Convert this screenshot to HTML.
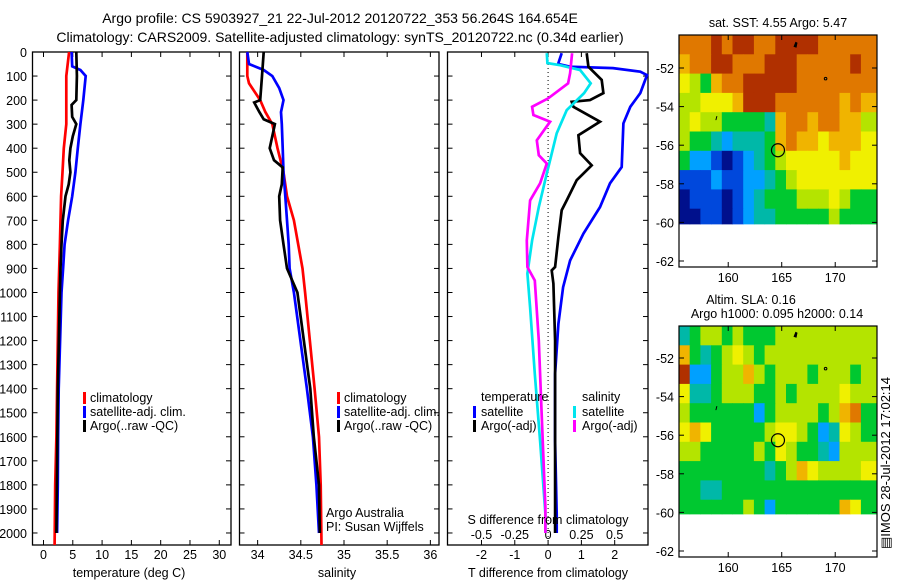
<!DOCTYPE html>
<html><head><meta charset="utf-8">
<style>
html,body{margin:0;padding:0;background:#fff;}
svg{display:block;font-family:"Liberation Sans",Arial,sans-serif;}
text{fill:#000;}
</style></head>
<body>
<svg id="fig" width="900" height="580" viewBox="0 0 900 580" xmlns="http://www.w3.org/2000/svg">
<text x="340" y="23" font-size="14" text-anchor="middle">Argo profile: CS 5903927_21 22-Jul-2012 20120722_353 56.264S 164.654E</text>
<text x="340" y="42" font-size="14" text-anchor="middle">Climatology: CARS2009. Satellite-adjusted climatology: synTS_20120722.nc (0.34d earlier)</text>
<g id="g"></g>
</svg>
<script>
// ---- profile data (depth in m) ----
const tClimDepth=[0,100,200,300,400,500,600,700,800,1000,1400,1600,1800,2050];
const tClimVal=[4.37,3.9,3.9,3.9,3.46,3.24,3.0,2.9,2.8,2.56,2.33,2.2,2.0,1.9];
const tSatDepth=[0,60,75,100,200,300,400,500,600,700,800,900,1000,1400,1600,1800,2000];
const tSatVal=[4.8,4.9,6.3,7.2,6.8,6.3,5.85,5.45,4.9,4.2,3.6,3.35,3.07,2.6,2.5,2.45,2.33];
const tArgoDepth=[0,100,200,220,270,300,350,400,450,500,550,600,700,800,900,1000,1400,1700,2000];
const tArgoVal=[5.6,5.7,5.6,4.8,4.9,5.6,5.0,4.6,4.4,4.6,4.3,3.75,3.3,3.07,2.9,2.8,2.45,2.33,2.2];

const sClimDepth=[0,100,130,200,250,300,400,500,600,700,800,900,1000,1400,1600,1800,2050];
const sClimVal=[33.88,33.88,33.9,34.03,34.09,34.17,34.23,34.3,34.34,34.42,34.47,34.52,34.55,34.66,34.71,34.73,34.74];
const sSatDepth=[0,50,75,100,150,200,250,300,400,500,600,700,800,900,1000,1400,1600,1800,2000];
const sSatVal=[33.88,33.9,34.07,34.17,34.25,34.3,34.27,34.28,34.29,34.3,34.32,34.34,34.36,34.37,34.42,34.57,34.64,34.68,34.71];
const sArgoDepth=[0,100,200,210,250,280,300,400,450,480,550,600,700,800,900,1000,1400,1600,1800,2000];
const sArgoVal=[34.07,34.05,34.03,33.96,34.02,34.07,34.2,34.14,34.19,34.29,34.28,34.25,34.26,34.3,34.34,34.46,34.61,34.65,34.71,34.72];

const dTSatDepth=[5,50,61,67,82,96,171,228,297,478,546,645,755,867,978,1130,1338,1617,1921,2000];
const dTSatVal=[0.41,0.3,0.66,1.95,2.77,2.97,2.77,2.47,2.26,2.21,1.86,1.56,1.06,0.66,0.45,0.31,0.21,0.21,0.26,0.26];
const dTArgoDepth=[5,61,116,171,200,207,228,290,346,421,471,533,617,658,769,894,908,963,1200,1478,1867,2000];
const dTArgoVal=[1.16,1.21,1.61,1.66,1.26,0.71,0.76,1.56,0.91,0.96,1.31,0.86,0.56,0.41,0.31,0.21,0.11,0.16,0.21,0.21,0.21,0.21];
const dSSatDepth=[5,46,55,75,130,171,242,338,450,505,645,784,921,1062,1338,1617,1921,2000];
const dSSatVal=[-0.01,-0.005,0.09,0.24,0.32,0.27,0.14,0.065,0.015,-0.01,-0.07,-0.12,-0.155,-0.135,-0.1,-0.06,-0.02,-0.02];
const dSArgoDepth=[5,88,130,193,228,262,290,367,429,464,546,617,784,894,950,1200,1478,1895,2000];
const dSArgoVal=[0.18,0.165,0.15,0.0,-0.12,-0.11,0.015,-0.085,-0.07,-0.01,-0.06,-0.135,-0.16,-0.155,-0.1,-0.07,-0.05,-0.02,-0.02];

const depthTicks=[0,100,200,300,400,500,600,700,800,900,1000,1100,1200,1300,1400,1500,1600,1700,1800,1900,2000];
const tTicks=[0,5,10,15,20,25,30];
const sTicks=[34,34.5,35,35.5,36];
const sTickLabels=["34","34.5","35","35.5","36"];
const dTTicks=[-2,-1,0,1,2];
const dSTicks=[-0.5,-0.25,0,0.25,0.5];
const dSTickLabels=["-0.5","-0.25","0","0.25","0.5"];

// ---- map data (levels 0..9), rows from north (-50.3) southward, cols from 155.4E ----
const sstGrid=[
[8,8,8,9,8,9,9,8,8,9,9,9,9,8,8,8,8,8],
[7,8,8,9,9,8,8,8,9,9,9,8,8,8,8,8,9,8],
[6,5,4,7,8,8,9,9,9,9,9,8,8,8,8,8,8,8],
[5,5,6,6,6,7,9,9,9,8,8,8,8,8,8,7,8,7],
[5,6,5,5,4,4,4,4,3,7,8,8,7,8,8,7,7,5],
[5,4,4,3,2,3,3,3,4,7,8,7,7,6,7,7,7,6],
[4,2,2,1,0,1,2,3,4,5,6,6,6,6,6,7,6,6],
[1,1,1,2,1,1,2,2,3,4,5,6,6,6,6,6,6,6],
[0,1,1,1,0,1,2,3,4,4,4,5,5,5,6,5,4,4],
[0,0,1,1,0,1,2,3,3,4,4,4,4,4,5,4,4,4]];
const slaGrid=[
[3,4,5,5,4,5,4,4,4,5,5,5,5,5,5,5,5,5],
[7,4,3,4,5,6,5,4,5,5,5,5,5,5,5,5,5,5],
[9,2,2,4,5,5,7,5,4,5,5,5,4,5,5,5,4,5],
[6,3,3,4,5,5,5,4,4,5,4,5,5,5,5,6,5,5],
[5,4,4,4,4,4,4,2,4,5,5,5,5,4,5,7,8,4],
[6,7,6,4,4,4,4,4,5,6,6,5,4,2,3,6,5,4],
[5,5,4,4,4,4,4,5,4,6,5,4,4,3,2,5,5,5],
[4,4,4,4,4,4,4,4,3,4,5,7,6,5,5,5,5,6],
[4,4,3,3,4,4,4,4,4,4,4,4,4,4,4,4,4,4],
[4,4,4,4,4,4,5,4,2,4,4,4,4,4,4,7,6,4]];
const lonTicks=[160,165,170];
const latTicks=[-52,-54,-56,-58,-60,-62];
const argoLon=164.65, argoLat=-56.26;

const NS="http://www.w3.org/2000/svg";
const G=document.getElementById('g');
function mk(tag,attrs,parent){const e=document.createElementNS(NS,tag);for(const k in attrs)e.setAttribute(k,attrs[k]);(parent||G).appendChild(e);return e;}

const yTop=52,yBot=545;
const yD=d=>yTop+d*(yBot-yTop)/2050;

function panel(x0,x1,xmin,xmax,name){
  const xs=v=>x0+(v-xmin)*(x1-x0)/(xmax-xmin);
  const g=mk('g',{});
  
  
  const r=mk('rect',{x:x0,y:yTop,width:x1-x0,height:yBot-yTop,fill:'none',stroke:'#000','stroke-width':1.3},g);
  
  
  depthTicks.forEach(d=>{
    const y=yD(d);
    mk('line',{x1:x0,x2:x0+5,y1:y,y2:y,stroke:'#000'},g);
    mk('line',{x1:x1-5,x2:x1,y1:y,y2:y,stroke:'#000'},g);
  });
  return {xs,g};
}
function line(p,xs,dArr,vArr,color,w,name){
  const pts=dArr.map((d,i)=>xs(vArr[i]).toFixed(1)+','+yD(d).toFixed(1)).join(' ');
  const e=mk('polyline',{points:pts,fill:'none',stroke:color,'stroke-width':w,'stroke-linejoin':'miter'},p.g);
  
  
}
function txt(s,x,y,size,anchor,name,parent){
  const e=mk('text',{x:x,y:y,'font-size':size,'text-anchor':anchor||'start'},parent);
  e.textContent=s;
  
  
  return e;
}
function xTicks(p,x0,ticks,labels,ly,name){
  ticks.forEach((t,i)=>{
    const x=p.xs(t);
    mk('line',{x1:x,x2:x,y1:yBot,y2:yBot-5,stroke:'#000'},p.g);
    mk('line',{x1:x,x2:x,y1:yTop,y2:yTop+5,stroke:'#000'},p.g);
    if(labels) txt(labels[i],x,ly,12.5,'middle',name+'-tick-label',p.g);
  });
}
function legendBar(x,y,color,name){
  const e=mk('rect',{x:x,y:y-10,width:3,height:12,fill:color});
  
  
}
const LW=2.7;

// Panel 1 temperature
const p1=panel(32.5,231,-1.875,32,'temperature-panel');
depthTicks.forEach(d=>{txt(String(d),27,yD(d)+5,12.5,'end','depth-tick-label',p1.g);});
xTicks(p1,0,tTicks,tTicks.map(String),559,'temperature');
line(p1,p1.xs,tClimDepth,tClimVal,'#ff0000',LW,'temperature-climatology-line');
line(p1,p1.xs,tSatDepth,tSatVal,'#0000ff',LW,'temperature-satellite-line');
line(p1,p1.xs,tArgoDepth,tArgoVal,'#000000',LW,'temperature-argo-line');
txt('temperature (deg C)',129,577,12.5,'middle','temperature-x-axis-title');
legendBar(83,402,'#ff0000','legend-climatology-marker');txt('climatology',90,402,12.5,'start','legend-climatology');
legendBar(83,416,'#0000ff','legend-satellite-marker');txt('satellite-adj. clim.',90,416,12.5,'start','legend-satellite');
legendBar(83,430,'#000','legend-argo-marker');txt('Argo(..raw -QC)',90,430,12.5,'start','legend-argo');

// Panel 2 salinity
const p2=panel(239.5,439,33.79,36.1,'salinity-panel');
xTicks(p2,0,sTicks,sTickLabels,559,'salinity');
line(p2,p2.xs,sClimDepth,sClimVal,'#ff0000',LW,'salinity-climatology-line');
line(p2,p2.xs,sSatDepth,sSatVal,'#0000ff',LW,'salinity-satellite-line');
line(p2,p2.xs,sArgoDepth,sArgoVal,'#000000',LW,'salinity-argo-line');
txt('salinity',337,577,12.5,'middle','salinity-x-axis-title');
legendBar(337,402,'#ff0000','legend2-climatology-marker');txt('climatology',344,402,12.5,'start','legend2-climatology');
legendBar(337,416,'#0000ff','legend2-satellite-marker');txt('satellite-adj. clim.',344,416,12.5,'start','legend2-satellite');
legendBar(337,430,'#000','legend2-argo-marker');txt('Argo(..raw -QC)',344,430,12.5,'start','legend2-argo');
txt('Argo Australia',326,517,12.5,'start','credit-argo-australia');
txt('PI: Susan Wijffels',326,531,12.5,'start','credit-pi');

// Panel 3 differences
const p3=panel(447.5,648,-3.02,3.0,'difference-panel');
const sx=v=>p3.xs(v*4);
const zl=mk('line',{x1:p3.xs(0),x2:p3.xs(0),y1:yTop,y2:yBot,stroke:'#000','stroke-dasharray':'1,3'},p3.g);


xTicks(p3,0,dTTicks,dTTicks.map(String),559,'t-difference');
dSTicks.forEach((t,i)=>txt(dSTickLabels[i],sx(t),539,12.5,'middle','s-difference-tick-label',p3.g));
txt('S difference from climatology',548,524,12.5,'middle','s-difference-axis-title');
txt('T difference from climatology',548,577,12.5,'middle','t-difference-x-axis-title');
line(p3,p3.xs,dTSatDepth,dTSatVal,'#0000ff',LW,'t-diff-satellite-line');
line(p3,p3.xs,dTArgoDepth,dTArgoVal,'#000000',LW,'t-diff-argo-line');
line(p3,sx,dSSatDepth,dSSatVal,'#00e5ee',LW,'s-diff-satellite-line');
line(p3,sx,dSArgoDepth,dSArgoVal,'#ff00ff',LW,'s-diff-argo-line');
txt('temperature',481,401,12.5,'start','legend3-temperature-heading');
legendBar(473,416,'#0000ff','legend3-t-satellite-marker');txt('satellite',481,416,12.5,'start','legend3-t-satellite');
legendBar(473,430,'#000','legend3-t-argo-marker');txt('Argo(-adj)',481,430,12.5,'start','legend3-t-argo');
txt('salinity',582,401,12.5,'start','legend3-salinity-heading');
legendBar(573,416,'#00e5ee','legend3-s-satellite-marker');txt('satellite',582,416,12.5,'start','legend3-s-satellite');
legendBar(573,430,'#ff00ff','legend3-s-argo-marker');txt('Argo(-adj)',582,430,12.5,'start','legend3-s-argo');

// ---- maps ----
const palette=['#00108c','#0048dc','#00a0ff','#00b8a8','#00c830','#b4e400','#f0f000','#f0b400','#e07800','#b03000'];
function map(yTopM,yBotM,lat52y,grid,name){
  const x0=679,x1=877;
  const lx=lon=>x0+(lon-155.4)*10.7;
  const ly=lat=>lat52y+(-52-lat)*19.3;
  const g=mk('g',{});
  
  
  const cid=name+'-clip';
  const cp=mk('clipPath',{id:cid},g);
  mk('rect',{x:x0,y:yTopM,width:x1-x0,height:ly(-60.1)-yTopM},cp);
  const cg=mk('g',{'clip-path':'url(#'+cid+')'},g);
  const latTop=-52+(lat52y-yTopM)/19.3;
  grid.forEach((row,j)=>row.forEach((v,i)=>{
    const c=mk('rect',{x:lx(155.4+i),y:ly(latTop-j),width:(i==row.length-1?20:11.2),height:20,fill:palette[v]},cg);
    
    
  }));
  mk('path',{d:`M${lx(166.1)},${ly(-50.9)} l2,-5 l2,1 l-1,5 z`,fill:'#000'},g);
  mk('circle',{cx:lx(169.1),cy:ly(-52.55),r:1.3,fill:'none',stroke:'#000'},g);
  mk('path',{d:`M${lx(158.8)},${ly(-54.7)} l1,-4 l1,0 l-1,4 z`,fill:'#000'},g);
  const m=mk('circle',{cx:lx(argoLon),cy:ly(argoLat),r:6.5,fill:'none',stroke:'#000','stroke-width':1.2},g);
  
  
  const fr=mk('rect',{x:x0,y:yTopM,width:x1-x0,height:yBotM-yTopM,fill:'none',stroke:'#000','stroke-width':1.2},g);
  
  
  lonTicks.forEach(t=>{const x=lx(t);
    mk('line',{x1:x,x2:x,y1:yBotM,y2:yBotM-5,stroke:'#000'},g);
    mk('line',{x1:x,x2:x,y1:yTopM,y2:yTopM+5,stroke:'#000'},g);
    txt(String(t),x,yBotM+15,12.5,'middle',name+'-lon-tick-label',g);});
  latTicks.forEach(t=>{const y=ly(t);
    mk('line',{x1:x0,x2:x0+5,y1:y,y2:y,stroke:'#000'},g);
    mk('line',{x1:x1-5,x2:x1,y1:y,y2:y,stroke:'#000'},g);
    txt(String(t),x0-5,y+5,12.5,'end',name+'-lat-tick-label',g);});
}
map(35,267,68,sstGrid,'sst-map');
map(326,557,358,slaGrid,'sla-map');
txt('sat. SST: 4.55 Argo: 5.47',778,27,12.5,'middle','sst-map-title');
txt('Altim. SLA: 0.16',751,304,12.5,'middle','sla-map-title');
txt('Argo h1000: 0.095 h2000: 0.14',777,318,12.5,'middle','sla-map-subtitle');
const ts=txt('\u25A4IMOS 28-Jul-2012 17:02:14',0,0,13,'start','timestamp-label');
ts.setAttribute('transform','translate(890,549) rotate(-90)');
</script>
</body></html>
